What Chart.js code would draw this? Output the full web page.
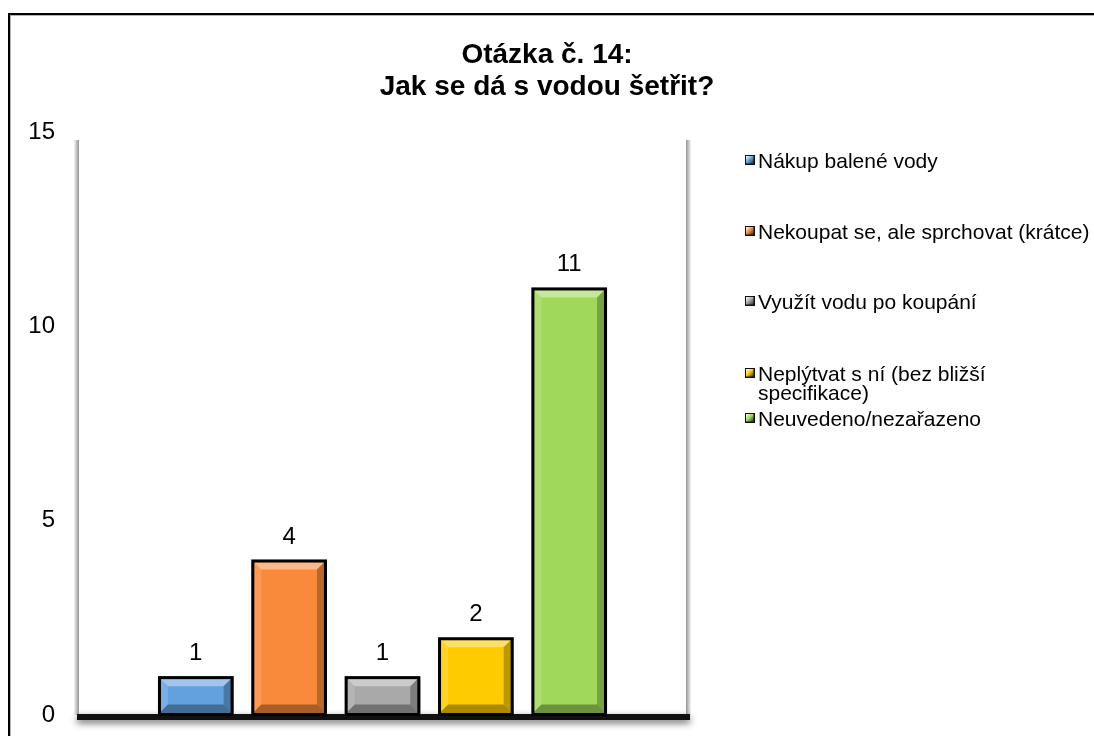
<!DOCTYPE html>
<html>
<head>
<meta charset="utf-8">
<script src="https://cdn.jsdelivr.net/npm/chart.js@4.4.0/dist/chart.umd.min.js"></script>
<style>
  html, body { margin: 0; padding: 0; background: #fff; overflow: hidden; }
  #wrap { position: relative; width: 1094px; height: 736px; overflow: hidden; }
  #frame { position: absolute; left: 8px; top: 13px; width: 1200px; height: 800px; border: 2px solid #000; box-shadow: inset 1px 1px 0 #b5b5b5; }
  #chart { position: absolute; left: 0; top: 0; }
  #legend { position: absolute; left: 745px; top: 0; font-family: "Liberation Sans", Arial, sans-serif; font-size: 21px; color: #000; }
  .item { position: absolute; left: 0; white-space: pre; line-height: 19px; }
  .item .box { position: absolute; left: 0; top: 4px; width: 8px; height: 8px; border: 1.5px solid #111; box-shadow: inset -1px -1px 0 rgba(0,0,0,0.4); }
  .item .txt { position: absolute; left: 13px; top: 0; }
</style>
</head>
<body>
<div id="wrap">
  <div id="frame"></div>
  <canvas id="chart" width="1094" height="736"></canvas>
  <div id="legend"></div>
</div>
<script>
// chart values
const categories = ['Otázka č. 14'];
const seriesLabels = [
    'Nákup balené vody',
    'Nekoupat se, ale sprchovat (krátce)',
    'Využít vodu po koupání',
    'Neplýtvat s ní (bez bližší\nspecifikace)',
    'Neuvedeno/nezařazeno'
];
const seriesValues = [1, 4, 1, 2, 11];
const seriesColors = ['#62a1de', '#f98a3b', '#a9a9a9', '#fecb00', '#9fd85b'];
const yTicks = [0, 5, 10, 15];
const titleLines = ['Otázka č. 14:', 'Jak se dá s vodou šetřit?'];

const FONT = '"Liberation Sans", Arial, sans-serif';

// grey edges and black base shadow around the plot area
const plotFrame = {
    id: 'plotFrame',
    beforeDatasetsDraw(chart) {
        const { ctx, chartArea: a } = chart;
        ctx.save();
        let g = ctx.createLinearGradient(a.left - 3, 0, a.left + 2, 0);
        g.addColorStop(0, 'rgba(0,0,0,0.04)');
        g.addColorStop(1, 'rgba(0,0,0,0.42)');
        ctx.fillStyle = g;
        ctx.fillRect(a.left - 3, a.top + 8, 5, a.bottom - a.top - 8);

        g = ctx.createLinearGradient(a.right - 2, 0, a.right + 3, 0);
        g.addColorStop(0, 'rgba(0,0,0,0.42)');
        g.addColorStop(1, 'rgba(0,0,0,0.04)');
        ctx.fillStyle = g;
        ctx.fillRect(a.right - 2, a.top + 8, 5, a.bottom - a.top - 8);

        ctx.shadowColor = 'rgba(0,0,0,0.6)';
        ctx.shadowBlur = 7;
        ctx.shadowOffsetY = 3;
        ctx.fillStyle = '#111';
        ctx.fillRect(a.left, a.bottom - 1, a.right - a.left + 2, 6);
        ctx.restore();
    }
};

// bevelled bars, black outline and value labels
const bevelBars = {
    id: 'bevelBars',
    afterDatasetsDraw(chart) {
        const ctx = chart.ctx;
        chart.data.datasets.forEach((ds, i) => {
            chart.getDatasetMeta(i).data.forEach((bar, j) => {
                const x0 = bar.x - bar.width / 2, x1 = bar.x + bar.width / 2;
                const y0 = bar.y, y1 = bar.base;
                const b = Math.min(10, (y1 - y0) / 3);
                ctx.save();
                const poly = (pts, fill) => {
                    ctx.beginPath();
                    ctx.moveTo(pts[0][0], pts[0][1]);
                    pts.slice(1).forEach(p => ctx.lineTo(p[0], p[1]));
                    ctx.closePath();
                    ctx.fillStyle = fill;
                    ctx.fill();
                };
                poly([[x0, y0], [x1, y0], [x1 - b, y0 + b], [x0 + b, y0 + b]], 'rgba(255,255,255,0.4)');
                poly([[x0, y0], [x0 + b, y0 + b], [x0 + b, y1 - b], [x0, y1]], 'rgba(255,255,255,0.15)');
                poly([[x1, y0], [x1, y1], [x1 - b, y1 - b], [x1 - b, y0 + b]], 'rgba(0,0,0,0.25)');
                poly([[x0, y1], [x0 + b, y1 - b], [x1 - b, y1 - b], [x1, y1]], 'rgba(0,0,0,0.32)');
                ctx.lineWidth = 3;
                ctx.strokeStyle = '#000';
                ctx.strokeRect(x0 + 1.5, y0 + 1.5, x1 - x0 - 3, y1 - y0 - 1.5);

                ctx.fillStyle = '#000';
                ctx.font = '24px ' + FONT;
                ctx.textAlign = 'center';
                ctx.textBaseline = 'alphabetic';
                ctx.fillText(String(ds.data[j]), bar.x, y0 - 16);
                ctx.restore();
            });
        });
    }
};

new Chart(document.getElementById('chart'), {
    type: 'bar',
    data: {
        labels: categories,
        datasets: seriesLabels.map((label, i) => ({
            label: label,
            data: [seriesValues[i]],
            backgroundColor: seriesColors[i],
            borderWidth: 0,
            categoryPercentage: 0.764,
            barPercentage: 0.81
        }))
    },
    options: {
        responsive: false,
        animation: false,
        layout: { padding: { top: 0, bottom: 21, left: 0, right: 0 } },
        scales: {
            x: { display: false },
            y: {
                min: 0,
                max: 15,
                afterBuildTicks: s => { s.ticks = yTicks.map(v => ({ value: v })); },
                afterFit: s => { s.width = 77; },
                // invisible tick marks push the labels away from the plot
                grid: { display: true, drawOnChartArea: false, drawTicks: true, tickLength: 22, tickColor: 'rgba(0,0,0,0)' },
                border: { display: false },
                ticks: { color: '#000', padding: 0, font: { family: FONT, size: 24 } }
            },
            y2: {
                position: 'right',
                afterFit: s => { s.width = 406; },
                grid: { display: false },
                border: { display: false },
                ticks: { display: false }
            }
        },
        plugins: {
            legend: { display: false },
            tooltip: { enabled: false },
            title: {
                display: true,
                text: titleLines,
                color: '#000',
                font: { family: FONT, size: 28, weight: 'bold', lineHeight: 32 / 28 },
                padding: { top: 39, bottom: 29 }
            }
        }
    },
    plugins: [plotFrame, bevelBars]
});

// legend drawn as html so the long label can wrap like the original
const legendTops = [151, 222, 292, 364, 409];
document.getElementById('legend').innerHTML = seriesLabels.map((label, i) => `
    <div class="item" style="top:${legendTops[i]}px">
        <div class="box" style="background:linear-gradient(135deg, #fff 0%, ${seriesColors[i]} 45%, #222 100%)"></div>
        <div class="txt">${label}</div>
    </div>
`).join('');
</script>
</body>
</html>
